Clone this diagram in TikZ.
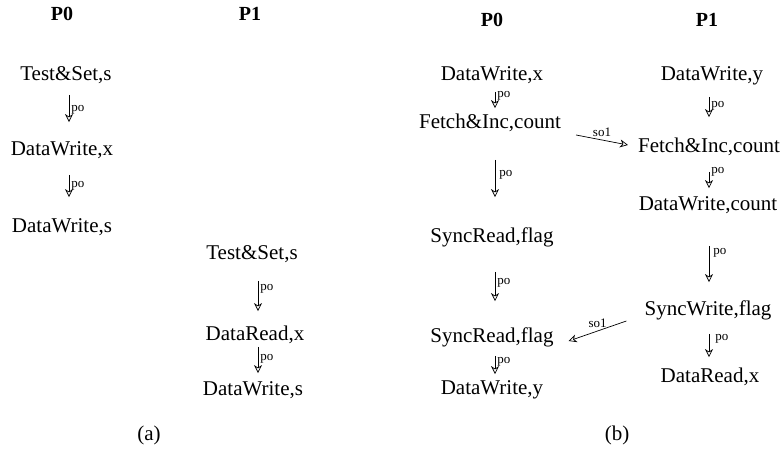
\documentclass[tikz,border=0pt]{standalone}
\usepackage{fontspec}
\setmainfont{Liberation Serif}
\usetikzlibrary{arrows.meta}

\begin{document}
\begin{tikzpicture}[x=1pt, y=-1pt,
	op/.style={inner sep=0pt, text height=15pt, text depth=4.5pt, font=\fontsize{21}{25}\selectfont},
	proc/.style={inner sep=0pt, font=\fontsize{20}{24}\selectfont\bfseries},
	lbl/.style={inner sep=0pt, font=\fontsize{13}{15}\selectfont},
	po/.style={line width=0.7pt, arrows={-{Stealth[open,length=8pt,width=8pt,inset=2.5pt]}}}]
	\useasboundingbox (0,0) rectangle (782,449);
	% (a)
	\node [proc] (pa0) at (62,14) {P0};
	\node [proc] (pa1) at (250,14) {P1};
	\node [op] (a1) at (66,75) {Test\&Set,s};
	\node [op] (a2) at (62,150) {DataWrite,x};
	\node [op] (a3) at (62,227) {DataWrite,s};
	\node [op] (u1) at (252,254) {Test\&Set,s};
	\node [op] (u2) at (255,335) {DataRead,x};
	\node [op] (u3) at (253,390) {DataWrite,s};
	\node [op] (capa) at (149,435) {(a)};
	\coordinate (xa) at (69,0);
	\coordinate (xu) at (258,0);
	\draw [po, shorten <=10pt, shorten >=18pt] (a1.south -| xa) -- (a2.north -| xa) node [lbl, pos=.45, right=2pt] {po};
	\draw [po, shorten <=15pt, shorten >=20pt] (a2.south -| xa) -- (a3.north -| xa) node [lbl, pos=.45, right=2pt] {po};
	\draw [po, shorten <=17pt, shorten >=14pt] (u1.south -| xu) -- (u2.north -| xu) node [lbl, pos=.4, right=2pt] {po};
	\draw [po, shorten <=2pt, shorten >=7pt] (u2.south -| xu) -- (u3.north -| xu) node [lbl, pos=.4, right=2pt] {po};
	% (b)
	\node [proc] (pb0) at (492,20) {P0};
	\node [proc] (pb1) at (707,20) {P1};
	\node [op] (b1) at (492,75) {DataWrite,x};
	\node [op] (b2) at (490,123) {Fetch\&Inc,count};
	\node [op] (b3) at (492,237) {SyncRead,flag};
	\node [op] (b4) at (492,337) {SyncRead,flag};
	\node [op] (b5) at (492,389) {DataWrite,y};
	\node [op] (c1) at (712,75) {DataWrite,y};
	\node [op] (c2) at (709,147) {Fetch\&Inc,count};
	\node [op] (c3) at (708,205) {DataWrite,count};
	\node [op] (c4) at (708,310) {SyncWrite,flag};
	\node [op] (c5) at (710,377) {DataRead,x};
	\node [op] (capb) at (617,435) {(b)};
	\coordinate (xb) at (495,0);
	\coordinate (xc) at (709,0);
	\draw [po, shorten <=7pt, shorten >=5pt] (b1.south -| xb) -- (b2.north -| xb) node [lbl, pos=.4, right=2pt] {po};
	\draw [po, shorten <=27pt, shorten >=30pt] (b2.south -| xb) -- (b3.north -| xb) node [lbl, pos=.45, right=4pt] {po};
	\draw [po, shorten <=25pt, shorten >=26pt] (b3.south -| xb) -- (b4.north -| xb) node [lbl, pos=.45, right=2pt] {po};
	\draw [po, shorten <=9pt, shorten >=5pt] (b4.south -| xb) -- (b5.north -| xb) node [lbl, pos=.45, right=2pt] {po};
	\draw [po, shorten <=12pt, shorten >=20pt] (c1.south -| xc) -- (c2.north -| xc) node [lbl, pos=.4, right=2pt] {po};
	\draw [po, shorten <=15pt, shorten >=7pt] (c2.south -| xc) -- (c3.north -| xc) node [lbl, pos=.4, right=2pt] {po};
	\draw [po, shorten <=31pt, shorten >=18pt] (c3.south -| xc) -- (c4.north -| xc) node [lbl, pos=.45, right=4pt] {po};
	\draw [po, shorten <=14pt, shorten >=10pt] (c4.south -| xc) -- (c5.north -| xc) node [lbl, pos=.4, right=6pt] {po};
	% sync order
	\draw [po] ([xshift=15pt,yshift=-12pt]b2.east) -- ([xshift=-10pt,yshift=2pt]c2.west) node [lbl, midway, above=3pt] {so1};
	\draw [po] ([xshift=-18pt,yshift=-11pt]c4.west) -- ([xshift=15pt,yshift=-4pt]b4.east) node [lbl, midway, above=3pt] {so1};
\end{tikzpicture}
\end{document}
